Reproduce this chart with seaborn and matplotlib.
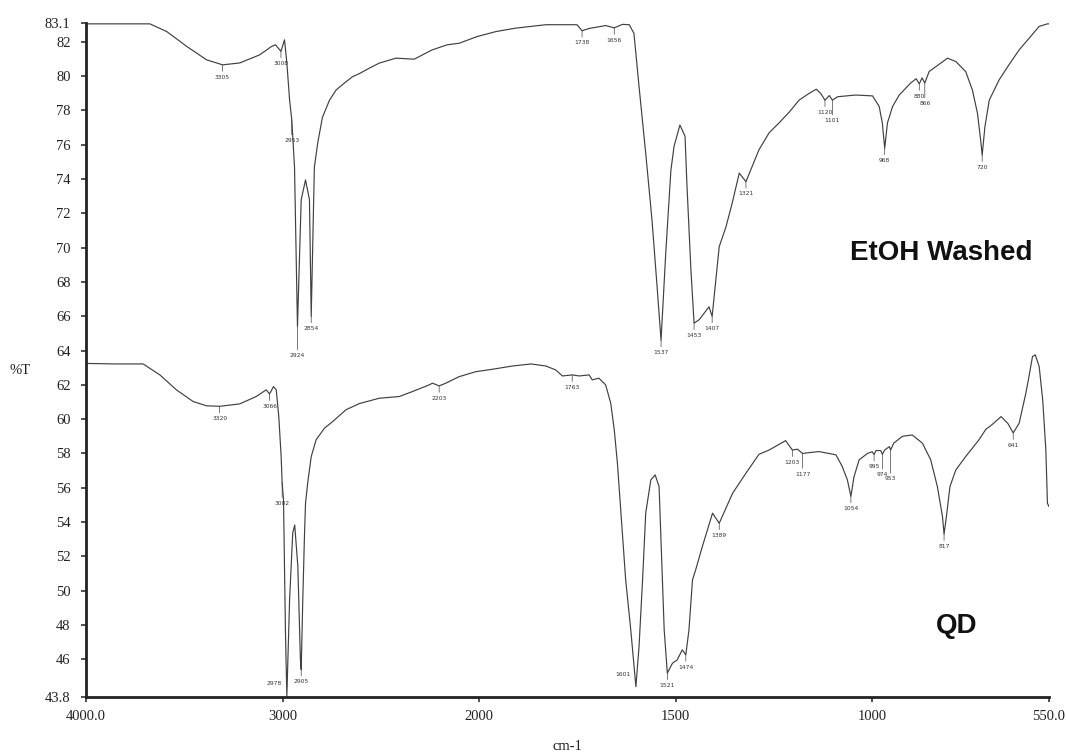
import numpy as np
import pandas as pd
import matplotlib
matplotlib.use("Agg")
import matplotlib.pyplot as plt
import seaborn as sns

# FTIR transmittance spectra (%T vs wavenumber, cm-1)
etoh_wavenumber = [4000, 3800, 3675, 3589, 3487, 3386, 3305, 3218, 3117, 3056, 3036, 3008,
                   2990, 2978, 2964, 2953, 2939, 2924, 2905, 2883, 2863, 2854, 2838, 2821,
                   2797, 2761, 2727, 2685, 2645, 2609, 2558, 2508, 2423, 2330, 2239, 2162,
                   2101, 2010, 1957, 1907, 1830, 1751, 1738, 1720, 1678, 1656, 1635, 1618,
                   1606, 1593, 1576, 1560, 1547, 1537, 1525, 1512, 1504, 1489, 1476, 1471,
                   1461, 1453, 1440, 1415, 1407, 1389, 1372, 1356, 1338, 1321, 1288, 1262,
                   1237, 1211, 1186, 1160, 1142, 1131, 1120, 1109, 1101, 1088, 1042, 999,
                   982, 974, 968, 961, 948, 931, 902, 888, 880, 873, 866, 855, 808, 787,
                   762, 745, 732, 724, 720, 713, 702, 677, 652, 626, 601, 575, 554, 550]
etoh_transmittance = [83.05, 83.05, 83.05, 82.6, 81.73, 80.95, 80.66, 80.77, 81.24, 81.73, 81.83, 81.45,
                      82.12, 80.77, 78.6, 77.45, 74.7, 65.4, 72.8, 73.95, 72.8, 66.0, 74.7, 76.1,
                      77.6, 78.6, 79.2, 79.6, 79.96, 80.15, 80.47, 80.76, 81.05, 80.99, 81.53, 81.83,
                      81.92, 82.31, 82.6, 82.8, 83.0, 83.0, 82.65, 82.78, 82.95, 82.82, 83.02, 83.0,
                      82.5, 79.4, 75.5, 71.6, 67.7, 64.6, 69.7, 74.5, 75.9, 77.15, 76.5, 73.6,
                      68.7, 65.6, 65.8, 66.55, 66.0, 70.06, 71.2, 72.6, 74.35, 73.85, 75.7, 76.7,
                      77.27, 77.9, 78.6, 79.0, 79.24, 79.0, 78.6, 78.87, 78.6, 78.8, 78.9, 78.85,
                      78.23, 77.26, 75.8, 77.27, 78.23, 78.9, 79.6, 79.85, 79.55, 79.9, 79.6, 80.27, 81.05, 80.85,
                      80.27, 79.2, 77.84, 76.29, 75.4, 77.06, 78.6, 79.78, 80.66, 81.53, 82.2, 82.9, 83.05, 83.05]

qd_wavenumber = [4000, 3850, 3709, 3624, 3540, 3455, 3387, 3320, 3218, 3134, 3083, 3066,
                 3046, 3032, 3019, 3007, 3002, 2995, 2990, 2985, 2978, 2964, 2948, 2938,
                 2922, 2909, 2905, 2897, 2888, 2883, 2872, 2854, 2829, 2787, 2745, 2677,
                 2609, 2508, 2406, 2339, 2254, 2237, 2203, 2169, 2101, 2016, 1966, 1915,
                 1868, 1830, 1805, 1788, 1763, 1745, 1720, 1712, 1695, 1678, 1665, 1656,
                 1648, 1639, 1627, 1614, 1601, 1593, 1584, 1576, 1563, 1552, 1542, 1535,
                 1529, 1521, 1508, 1496, 1483, 1474, 1466, 1457, 1449, 1432, 1419, 1406,
                 1389, 1355, 1321, 1288, 1262, 1220, 1203, 1190, 1177, 1160, 1135, 1092,
                 1076, 1063, 1054, 1046, 1033, 1012, 1000, 995, 990, 978, 974, 968, 956,
                 953, 945, 923, 898, 872, 851, 834, 821, 817, 811, 802, 787, 762, 728,
                 711, 694, 672, 655, 641, 626, 609, 601, 592, 585, 575, 566, 558, 554, 550]
qd_transmittance = [63.25, 63.22, 63.22, 62.58, 61.71, 61.03, 60.78, 60.75, 60.89, 61.32, 61.71, 61.47,
                    61.9, 61.71, 60.15, 57.8, 56.3, 55.3, 51.4, 47.5, 43.85, 49.5, 53.37, 53.83,
                    51.4, 45.97, 45.4, 49.46, 53.37, 55.1, 56.28, 57.82, 58.8, 59.47, 59.86, 60.55,
                    60.91, 61.22, 61.32, 61.61, 62.0, 62.1, 61.94, 62.1, 62.48, 62.77, 62.91, 63.1,
                    63.22, 63.1, 62.87, 62.52, 62.58, 62.52, 62.58, 62.29, 62.39, 62.0, 60.93, 59.37,
                    57.43, 54.52, 50.63, 47.71, 44.4, 46.74, 50.63, 54.52, 56.46, 56.75, 56.07, 51.6,
                    47.71, 45.19, 45.77, 45.96, 46.55, 46.26, 47.71, 50.63, 51.21, 52.57, 53.54, 54.52,
                    53.93, 55.68, 56.85, 57.95, 58.2, 58.75, 58.2, 58.25, 58.0, 58.05, 58.11, 57.92,
                    57.24, 56.46, 55.5, 56.65, 57.63, 58.0, 58.1, 57.95, 58.17, 58.17, 57.95, 58.2, 58.4,
                    58.2, 58.6, 59.0, 59.08, 58.6, 57.63, 56.07, 54.32, 53.3, 54.32, 56.07, 57.04, 57.82, 58.8,
                    59.4, 59.7, 60.15, 59.76, 59.2, 59.76, 61.5, 62.48, 63.65, 63.75, 63.07, 61.12, 58.2, 55.1, 54.9]

# picked peak positions (cm-1)
etoh_peaks = [3305, 3008, 2953, 2924, 2854, 1738, 1656, 1537, 1453, 1407, 1321,
              1120, 1101, 968, 880, 866, 720]
qd_peaks = [3320, 3066, 3002, 2978, 2905, 2203, 1763, 1601, 1521, 1474, 1389,
            1203, 1177, 1054, 995, 974, 953, 817, 641]

y_ticks = [83.1, 82, 80, 78, 76, 74, 72, 70, 68, 66, 64, 62, 60, 58, 56, 54, 52, 50, 48, 46, 43.8]
y_tick_labels = ["83.1", "82", "80", "78", "76", "74", "72", "70", "68", "66", "64", "62",
                 "60", "58", "56", "54", "52", "50", "48", "46", "43.8"]
x_ticks = [4000, 3000, 2000, 1500, 1000, 550]
x_tick_labels = ["4000.0", "3000", "2000", "1500", "1000", "550.0"]

sample_names = ["EtOH Washed", "QD"]

spectra = pd.concat([
    pd.DataFrame({"wavenumber": etoh_wavenumber, "T": etoh_transmittance, "sample": sample_names[0]}),
    pd.DataFrame({"wavenumber": qd_wavenumber, "T": qd_transmittance, "sample": sample_names[1]}),
], ignore_index=True)

sns.set_style("white")
plt.rcParams["font.family"] = ["Liberation Serif", "DejaVu Serif"]

W, H = 1066, 755
fig = plt.figure(figsize=(W / 100, H / 100), dpi=100)
ax = fig.add_axes([86 / W, 1 - 697 / H, (1049 - 86) / W, (697 - 23) / H])

line_color = "#404040"
sns.lineplot(data=spectra, x="wavenumber", y="T", hue="sample",
             palette={sample_names[0]: line_color, sample_names[1]: line_color},
             estimator=None, sort=False, legend=False, linewidth=0.85, ax=ax)


# wavenumber axis is expanded 2x below 2000 cm-1
def _fwd(x):
    x = np.asarray(x, dtype=float)
    return np.where(x > 2000, 2000 + (x - 2000) / 2.0, x)


def _inv(t):
    t = np.asarray(t, dtype=float)
    return np.where(t > 2000, 2000 + (t - 2000) * 2.0, t)


ax.set_xscale("function", functions=(_fwd, _inv))
ax.set_xlim(4000, 550)
ax.set_ylim(43.8, 83.1)

ax.set_xticks(x_ticks)
ax.set_xticklabels(x_tick_labels)
ax.set_yticks(y_ticks)
ax.set_yticklabels(y_tick_labels)
ax.xaxis.set_minor_locator(matplotlib.ticker.NullLocator())
ax.tick_params(axis="both", which="major", direction="out", length=3.5, width=1.1,
               color="#222222", labelsize=10.5, labelcolor="#222222")
ax.tick_params(axis="y", pad=7.5, left=True)
ax.tick_params(axis="x", pad=6, bottom=True)
ax.set_xlabel("")
ax.set_ylabel("")

for side in ["top", "right"]:
    ax.spines[side].set_visible(False)
for side in ["left", "bottom"]:
    ax.spines[side].set_linewidth(2.0)
    ax.spines[side].set_color("#222222")


def label_peaks(wn, tr, peaks):
    """Mark picked peaks with a short drop line and a small wavenumber label;
    labels of neighbouring peaks are staggered so they do not collide."""
    wn_asc = np.asarray(wn, dtype=float)[::-1]
    tr_asc = np.asarray(tr, dtype=float)[::-1]
    bottom_px = ax.transAxes.transform((0, 0))[1]
    last_x = {}
    for p in peaks:
        y = float(np.interp(p, wn_asc, tr_asc))
        xd, yd = ax.transData.transform((p, y))
        if yd - 22 < bottom_px:
            # dip reaches the frame: put the label beside the minimum, on its left
            ax.annotate(str(p), xy=(p, y), xytext=(-9, 9), textcoords="offset points",
                        ha="center", va="center", fontsize=4.3, color="#333333",
                        family="DejaVu Sans")
            continue
        level = 0
        while level in last_x and abs(last_x[level] - xd) < 17:
            level += 1
        last_x[level] = xd
        ax.annotate(str(p), xy=(p, y), xytext=(0, -7 - 6 * level), textcoords="offset points",
                    ha="center", va="top", fontsize=4.3, color="#333333",
                    family="DejaVu Sans",
                    arrowprops=dict(arrowstyle="-", lw=0.5, color="#444444",
                                    shrinkA=0, shrinkB=0))


label_peaks(etoh_wavenumber, etoh_transmittance, etoh_peaks)
label_peaks(qd_wavenumber, qd_transmittance, qd_peaks)

fig.text(941 / W, 1 - 253 / H, sample_names[0], ha="center", va="center",
         fontsize=20, fontweight="bold", family="Liberation Sans", color="#111111")
fig.text(957 / W, 1 - 626 / H, sample_names[1], ha="center", va="center",
         fontsize=20, fontweight="bold", family="Liberation Sans", color="#111111")

fig.text(20 / W, 1 - 370 / H, "%T", ha="center", va="center", fontsize=10.5, color="#222222")
fig.text(567.5 / W, 1 - 747 / H, "cm-1", ha="center", va="center", fontsize=10.5, color="#222222")

fig.savefig("out.png", dpi=100, facecolor="white")
